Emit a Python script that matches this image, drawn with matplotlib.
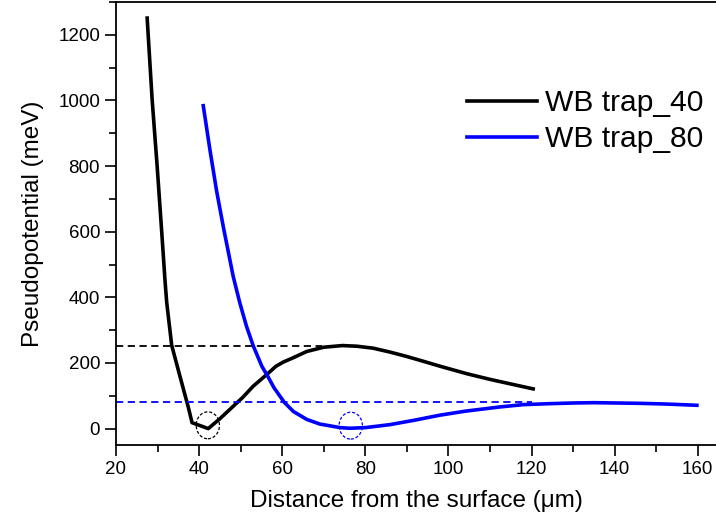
import matplotlib
matplotlib.use('Agg')
import matplotlib.pyplot as plt
from matplotlib.patches import Ellipse
from matplotlib.ticker import MultipleLocator

# ─── Data ────────────────────────────────────────────────────────────────────
X_40 = [27.5, 28.7, 29.9, 31.0, 31.8, 32.2, 33.4, 35.4, 37.4, 38.3,
        42.2, 45.0, 48.2, 50.5, 53.0, 56.3, 58.5, 60.3, 62.5, 65.9, 70.0,
        74.5, 78.0, 81.9, 86.0, 89.9, 94.0, 98.0, 104.5, 110.0, 115.0, 120.4]
Y_40 = [1251, 1002, 800, 600, 450, 385, 254, 159, 65, 18,
        0, 30, 68, 95, 129, 165, 190, 203, 215, 235, 248,
        253, 251, 245, 233, 220, 205, 190, 167, 150, 136, 121]

X_80 = [41.0, 42.6, 44.2, 45.9, 47.4, 48.2, 49.8, 51.4, 53.0, 55.1, 56.5,
        58.0, 60.5, 62.7, 65.9, 69.0, 73.9, 76.3, 80.0, 85.9, 92.0, 98.0,
        104.0, 112.4, 118.0, 124.5, 130.0, 135.0, 140.6, 146.0, 152.0, 156.0,
        159.8]
Y_80 = [984, 850, 725, 610, 515, 464, 383, 312, 253, 190, 160,
        125, 80, 52, 28, 14, 3, 1, 3, 12, 26, 41,
        53, 66, 73, 76, 78, 79, 78, 77, 75, 73,
        71]

LABELS = ["WB trap_40", "WB trap_80"]
BARRIER = [253, 80]          # dashed escape levels (meV)
BARRIER_END = [69.5, 120]    # where the dashed lines stop (um)
MIN_POS = [(42.1, 10), (76.5, 9)]   # dashed circles at the trap minima

plt.rcParams.update({
    "font.family": "Liberation Sans",
    "font.size": 13.5,
})

fig = plt.figure(figsize=(7.16, 5.24), dpi=100)
ax = fig.add_axes([116 / 716, 79 / 524, 600 / 716, 443 / 524])

ax.plot(X_40, Y_40, color='black', lw=2.6, label=LABELS[0])
ax.plot(X_80, Y_80, color='#0000ff', lw=2.6, label=LABELS[1])

ax.hlines(BARRIER[0], 20, BARRIER_END[0], colors='black',
          linestyles=(0, (4, 2.5)), lw=1.3)
ax.hlines(BARRIER[1], 20, BARRIER_END[1], colors='#0000ff',
          linestyles=(0, (4, 2.5)), lw=1.3)

for (cx, cy), col in zip(MIN_POS, ['black', '#0000ff']):
    ax.add_patch(Ellipse((cx, cy), 5.6, 82, fill=False, edgecolor=col,
                         linestyle=(0, (2.5, 1.5)), lw=0.9))

ax.set_xlim(20, 164.4)
ax.set_ylim(-50, 1300)
ax.xaxis.set_major_locator(MultipleLocator(20))
ax.xaxis.set_minor_locator(MultipleLocator(10))
ax.yaxis.set_major_locator(MultipleLocator(200))
ax.yaxis.set_minor_locator(MultipleLocator(100))
ax.set_yticks(range(0, 1201, 200))
ax.tick_params(which='major', direction='out', length=8, width=1.2, labelsize=13.5)
ax.tick_params(which='minor', direction='out', length=5, width=1.2)
ax.tick_params(top=False, right=False)

for s in ['left', 'bottom', 'top']:
    ax.spines[s].set_linewidth(1.3)
ax.spines['right'].set_visible(False)

ax.set_xlabel("Distance from the surface (\u03bcm)", fontsize=17.5, labelpad=9)
ax.set_ylabel("Pseudopotential (meV)", fontsize=17.5, labelpad=10)

ax.legend(loc='upper left', bbox_to_anchor=(0.585, 0.803), frameon=False,
          fontsize=21.6, handlelength=2.33, handletextpad=0.27,
          labelspacing=0.27, borderpad=0, borderaxespad=0)

fig.savefig("out.png", dpi=100)
